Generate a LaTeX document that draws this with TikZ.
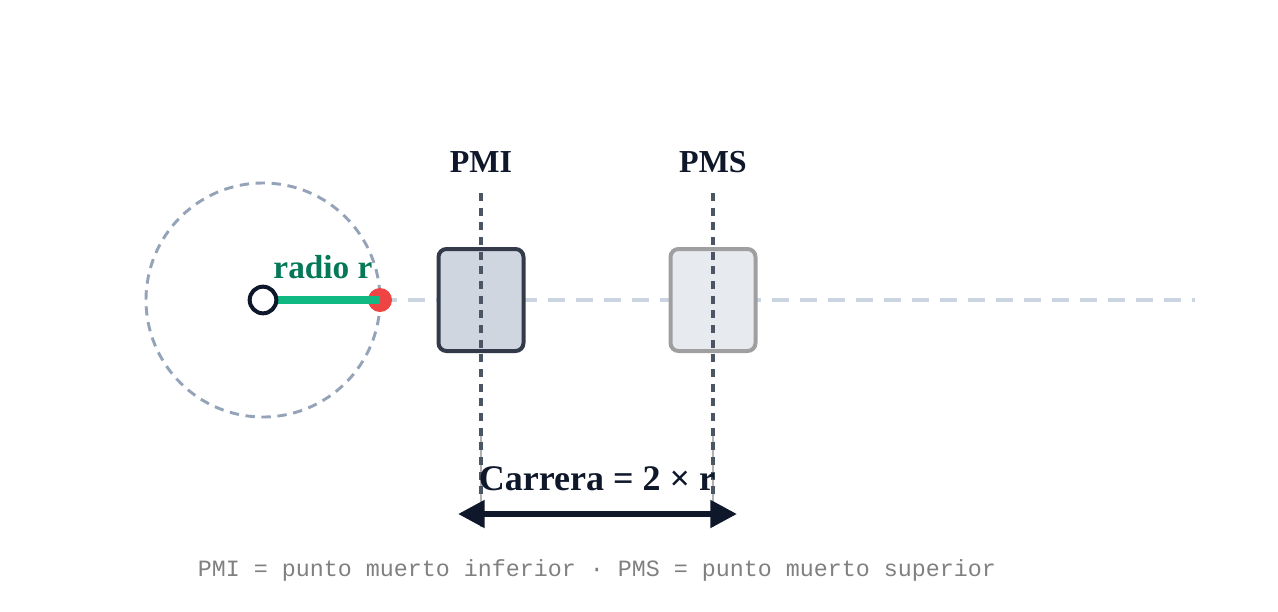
\documentclass[tikz,border=0pt]{standalone}
\usepackage{fontspec}
\setmainfont{Liberation Serif}
\setmonofont{Liberation Mono}
\usetikzlibrary{arrows.meta}
\definecolor{ink}{HTML}{0F172A}
\definecolor{slate}{HTML}{94A3B8}
\definecolor{axis}{HTML}{CBD5E1}
\definecolor{crank}{HTML}{10B981}
\definecolor{crankTxt}{HTML}{047857}
\definecolor{pin}{HTML}{EF4444}
\definecolor{guide}{HTML}{4B5563}
\tikzset{
  piston/.style={draw, line width=3pt, rounded corners=6pt, minimum width=63.75pt, minimum height=76.5pt, inner sep=0pt},
  guide/.style={draw=guide, line width=2.4pt, dash pattern=on 6pt off 5pt},
  title/.style={font=\bfseries\fontsize{24}{28}\selectfont, text=ink}
}
\begin{document}
\begin{tikzpicture}[x=0.75pt,y=-0.75pt]
  \useasboundingbox (0,0) rectangle (1278,611);

  % crank circle and axis
  \draw[slate, line width=2.2pt, dash pattern=on 7pt off 5pt] (263,300) circle[radius=117];
  \draw[axis, line width=2.8pt, dash pattern=on 13pt off 8pt] (380,300) -- (1195,300);

  % pistons
  \node[piston, draw=ink!85!white, fill=slate!45!white] (pmiBox) at (481,300) {};
  \node[piston, draw=gray!75, fill=slate!22!white] (pmsBox) at (713,300) {};

  % dead centre lines
  \node[title] (pmi) at (481,162) {PMI};
  \node[title] (pms) at (713,162) {PMS};
  \draw[gray!60, line width=1.5pt] (481,430) -- (481,527);
  \draw[gray!60, line width=1.5pt] (713,430) -- (713,527);
  \coordinate (pmiEnd) at (481,500);
  \coordinate (pmsEnd) at (713,500);
  \draw[guide] (481,193) -- (pmiEnd);
  \draw[guide] (713,193) -- (pmsEnd);

  % crank arm
  \coordinate (hub) at (263,300);
  \node[circle, fill=pin, minimum size=18pt, inner sep=0pt] (pinDot) at (380,300) {};
  \draw[crank, line width=6pt] (hub) -- (pinDot.center);
  \node[circle, draw=ink, fill=white, line width=3pt, minimum size=20pt, inner sep=0pt] (hubDot) at (hub) {};
  \node[font=\bfseries\fontsize{25}{30}\selectfont, text=crankTxt] (radio) at (323,267) {radio r};

  % stroke
  \coordinate (strokeL) at (458,514);
  \coordinate (strokeR) at (737,514);
  \draw[ink, line width=4.5pt, {Triangle[length=20pt,width=20pt]}-{Triangle[length=20pt,width=20pt]}] (strokeL) -- (strokeR);
  \node[font=\bfseries\fontsize{27}{32}\selectfont, text=ink] (carrera) at (597,479) {Carrera = 2 × r};

  \node[font=\ttfamily\fontsize{17.5}{20}\selectfont, text=gray] (note) at (597,570) {PMI = punto muerto inferior · PMS = punto muerto superior};
\end{tikzpicture}
\end{document}
